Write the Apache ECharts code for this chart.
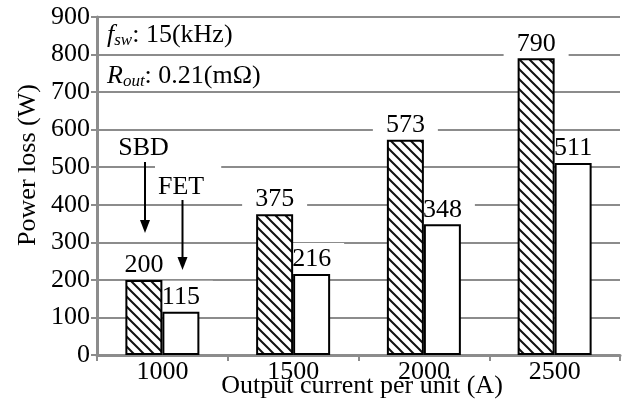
<!DOCTYPE html>
<html>
<head>
<meta charset="utf-8">
<script src="https://cdn.jsdelivr.net/npm/echarts@6/dist/echarts.min.js"></script>
<style>
  html, body { margin: 0; padding: 0; background: #fff; }
  #chart { width: 623px; height: 405px; }
</style>
</head>
<body>
<div id="chart"></div>
<script>
// Output current per unit (A)
const categories = ['1000', '1500', '2000', '2500'];
// Power loss (W)
const sbdLoss = [200, 375, 573, 790];
const fetLoss = [115, 216, 348, 511];
const yTicks = { min: 0, max: 900, interval: 100 };

const FONT = 'Liberation Serif, Times New Roman, serif';
const FS = 26;
const GRID_GRAY = '#8c8c8c';

// diagonal hatch tile ("\" direction) for the SBD bars
function hatchPattern() {
  const s = 10;
  const c = document.createElement('canvas');
  c.width = s; c.height = s;
  const g = c.getContext('2d');
  g.fillStyle = '#fff';
  g.fillRect(0, 0, s, s);
  g.strokeStyle = '#111';
  g.lineWidth = 2;
  g.beginPath();
  g.moveTo(-2, -2); g.lineTo(s + 2, s + 2);
  g.moveTo(-2, s - 2); g.lineTo(2, s + 2);
  g.moveTo(s - 2, -2); g.lineTo(s + 2, 2);
  g.stroke();
  return c;
}

const valueLabel = (padL, padR, dx) => ({
  show: true,
  position: 'top',
  distance: 1,
  offset: [dx, 0],
  fontFamily: FONT,
  fontSize: FS,
  lineHeight: 27,
  color: '#000',
  backgroundColor: '#fff',
  padding: [3, padR, 0, padL]
});

const condRich = {
  i: { fontFamily: FONT, fontSize: FS, fontStyle: 'italic', lineHeight: 29 },
  s: { fontFamily: FONT, fontSize: 17, fontStyle: 'italic', verticalAlign: 'bottom', lineHeight: 17 },
  n: { fontFamily: FONT, fontSize: FS, lineHeight: 29 }
};

const chart = echarts.init(document.getElementById('chart'), null, { renderer: 'canvas' });

chart.setOption({
  animation: false,
  backgroundColor: '#fff',
  grid: { left: 97, right: 3, top: 17, bottom: 50, containLabel: false },
  xAxis: {
    type: 'category',
    data: categories,
    boundaryGap: true,
    axisLine: { show: true, lineStyle: { color: GRID_GRAY, width: 3 } },
    axisTick: { show: true, length: 6, interval: 0, lineStyle: { color: GRID_GRAY, width: 2 } },
    axisLabel: { margin: 4, fontFamily: FONT, fontSize: FS, color: '#000' },
    splitLine: { show: false }
  },
  yAxis: {
    type: 'value',
    min: yTicks.min,
    max: yTicks.max,
    interval: yTicks.interval,
    axisLine: { show: true, lineStyle: { color: GRID_GRAY, width: 3 } },
    axisTick: { show: true, length: 6, lineStyle: { color: GRID_GRAY, width: 2 } },
    axisLabel: { margin: 7, fontFamily: FONT, fontSize: FS, color: '#000' },
    splitLine: { show: true, lineStyle: { color: GRID_GRAY, width: 2 } }
  },
  series: [
    {
      name: 'SBD',
      type: 'bar',
      z: 3,
      data: sbdLoss,
      barWidth: 37,
      barGap: '0%',
      itemStyle: {
        color: { image: hatchPattern(), repeat: 'repeat' },
        borderColor: '#000',
        borderWidth: 2
      },
      label: valueLabel(13, 13, 0)
    },
    {
      name: 'FET',
      type: 'bar',
      z: 2,
      data: fetLoss,
      barWidth: 37,
      barGap: '0%',
      itemStyle: { color: '#fff', borderColor: '#000', borderWidth: 2 },
      label: valueLabel(0, 13, 6.5)
    }
  ],
  graphic: [
    // axis titles
    {
      type: 'text', x: 362, y: 386, z: 100,
      style: { text: 'Output current per unit (A)', fontFamily: FONT, fontSize: FS, fill: '#000', align: 'center', verticalAlign: 'middle' }
    },
    {
      type: 'text', x: 28, y: 165, rotation: Math.PI / 2, z: 100,
      style: { text: 'Power loss (W)', fontFamily: FONT, fontSize: FS, fill: '#000', align: 'center', verticalAlign: 'middle' }
    },
    // operating conditions
    {
      type: 'text', x: 107, y: 35, z: 100,
      style: {
        text: '{i|f}{s|sw}{n|: 15(kHz)}',
        fontFamily: FONT, fontSize: FS, fill: '#000', align: 'left', verticalAlign: 'middle',
        rich: condRich
      }
    },
    {
      type: 'text', x: 107, y: 76, z: 100,
      style: {
        text: '{i|R}{s|out}{n|: 0.21(mΩ)}',
        fontFamily: FONT, fontSize: FS, fill: '#000', align: 'left', verticalAlign: 'middle',
        rich: condRich
      }
    },
    // series callouts
    {
      type: 'text', x: 143.5, y: 148, z: 100,
      style: { text: 'SBD', fontFamily: FONT, fontSize: FS, fill: '#000', align: 'center', verticalAlign: 'middle' }
    },
    {
      type: 'line', z: 100,
      shape: { x1: 145, y1: 162, x2: 145, y2: 222 },
      style: { stroke: '#000', lineWidth: 2 }
    },
    {
      type: 'polygon', z: 100,
      shape: { points: [[140, 220], [150, 220], [145, 233]] },
      style: { fill: '#000' }
    },
    {
      type: 'text', x: 155, y: 165, z: 99,
      style: {
        text: 'FET', fontFamily: FONT, fontSize: FS, lineHeight: 25, fill: '#000',
        align: 'left', verticalAlign: 'top',
        backgroundColor: '#fff', padding: [10, 17, 2, 3]
      }
    },
    {
      type: 'line', z: 100,
      shape: { x1: 182.5, y1: 200, x2: 182.5, y2: 259 },
      style: { stroke: '#000', lineWidth: 2 }
    },
    {
      type: 'polygon', z: 100,
      shape: { points: [[177.5, 257], [187.5, 257], [182.5, 270]] },
      style: { fill: '#000' }
    }
  ]
});
</script>
</body>
</html>
